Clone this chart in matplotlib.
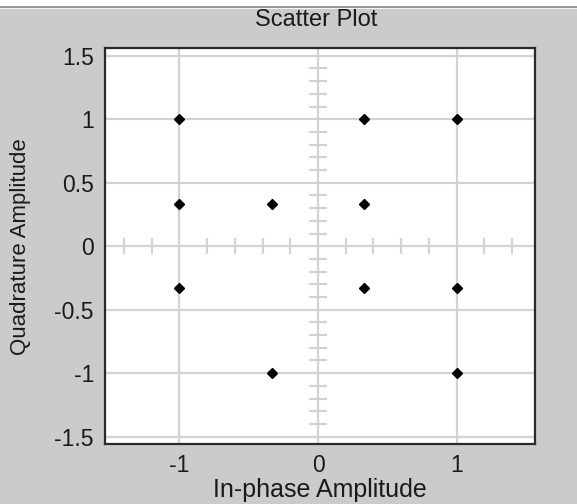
import matplotlib
matplotlib.use("Agg")
import matplotlib.pyplot as plt
from matplotlib.patches import Rectangle

# Constellation points (in-phase, quadrature)
in_phase = [-1.0, 0.333, 1.0, -1.0, -0.333, 0.333, -1.0, 0.333, 1.0, -0.333, 1.0]
quadrature = [1.0, 1.0, 1.0, 0.333, 0.333, 0.333, -0.333, -0.333, -0.333, -1.0, -1.0]

x_ticks = [-1, 0, 1]
x_tick_labels = ["-1", "0", "1"]
y_ticks = [-1.5, -1, -0.5, 0, 0.5, 1, 1.5]
y_tick_labels = ["-1.5", "-1", "-0.5", "0", "0.5", "1", "1.5"]

# minor tick marks drawn along the centre cross
x_minor = [-1.4, -1.2, -0.8, -0.6, -0.4, -0.2, 0.2, 0.4, 0.6, 0.8, 1.2, 1.4]
y_minor = [-1.4, -1.3, -1.2, -1.1, -0.9, -0.8, -0.7, -0.6, -0.4, -0.3, -0.2, -0.1,
           0.1, 0.2, 0.3, 0.4, 0.6, 0.7, 0.8, 0.9, 1.1, 1.2, 1.3, 1.4]

BG = "#cbcbcb"
GRID = "#d2d2d2"
TEXT = "#1a1a1a"

plt.rcParams["font.family"] = ["Liberation Sans", "DejaVu Sans"]

fig = plt.figure(figsize=(5.77, 5.04), dpi=100, facecolor=BG)

# window-style strip along the top edge
fig.patches.append(Rectangle((0, 1 - 5.5 / 504), 1, 5.5 / 504, transform=fig.transFigure,
                             facecolor="white", edgecolor="none", zorder=0))
fig.patches.append(Rectangle((0, 1 - 7.5 / 504), 1, 2 / 504, transform=fig.transFigure,
                             facecolor="#9a9a9a", edgecolor="none", zorder=0))
fig.patches.append(Rectangle((0, 1 - 9 / 504), 1, 1.5 / 504, transform=fig.transFigure,
                             facecolor="#f4f4f4", edgecolor="none", zorder=0))

ax = fig.add_axes([105 / 577, 1 - 444 / 504, (535.3 - 105) / 577, (444 - 48.3) / 504])
ax.set_facecolor("white")
ax.set_xlim(-1.536, 1.567)
ax.set_ylim(-1.558, 1.559)

ax.set_xticks(x_ticks)
ax.set_xticklabels(x_tick_labels)
ax.set_yticks(y_ticks)
ax.set_yticklabels(y_tick_labels)
ax.tick_params(axis="both", length=0, labelsize=16.5, colors=TEXT)
ax.tick_params(axis="x", pad=7)
ax.tick_params(axis="y", pad=8)

ax.grid(True, color=GRID, linewidth=1.6, zorder=1)
ax.set_axisbelow(True)

for spine in ax.spines.values():
    spine.set_color("#2a2a2a")
    spine.set_linewidth(1.6)

# tick marks on the centre cross
ax.plot(x_minor, [0] * len(x_minor), linestyle="none", marker="|",
        markersize=11, markeredgewidth=1.6, color=GRID, zorder=1.5)
ax.plot([0] * len(y_minor), y_minor, linestyle="none", marker="_",
        markersize=13, markeredgewidth=1.6, color=GRID, zorder=1.5)

ax.plot(in_phase, quadrature, linestyle="none", marker="D", markersize=5.5,
        color="black", zorder=3)

fig.text(316 / 577, 1 - 20.5 / 504, "Scatter Plot", ha="center", va="center",
         fontsize=17, color=TEXT)
ax.set_xlabel("In-phase Amplitude", fontsize=18, color=TEXT, labelpad=1)
ax.set_ylabel("Quadrature Amplitude", fontsize=16, color=TEXT)
ax.yaxis.set_label_coords(-0.171, 0.5)

fig.savefig("out.png", dpi=100, facecolor=BG)
